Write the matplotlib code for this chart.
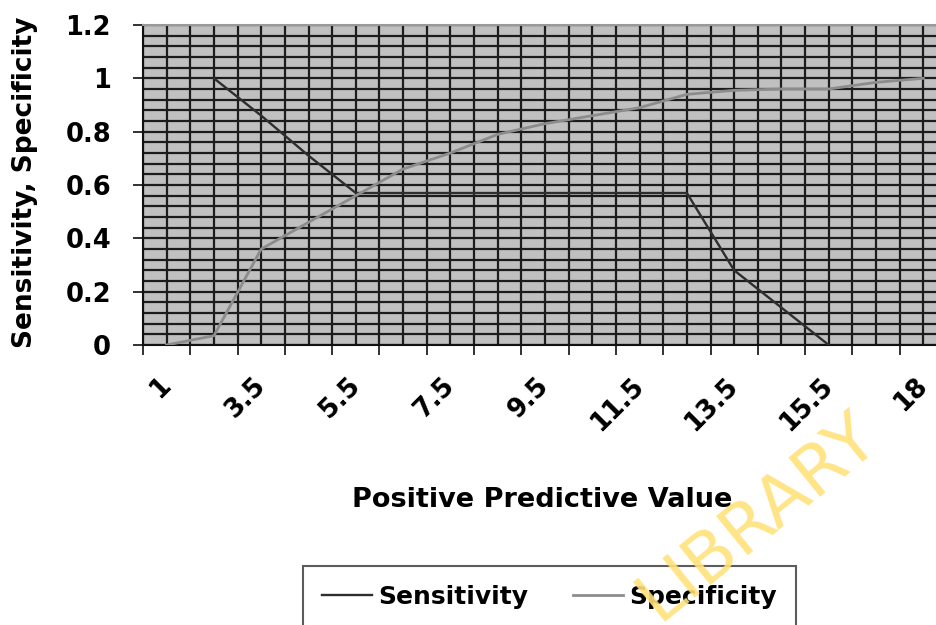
import numpy as np
import matplotlib.pyplot as plt

# category labels on the x axis (only every other one is printed)
categories = ['1', '2.5', '3.5', '4.5', '5.5', '6.5', '7.5', '8.5', '9.5',
              '10.5', '11.5', '12.5', '13.5', '14.5', '15.5', '16.5', '18']

sensitivity = [np.nan, 1.0, 0.86, 0.71, 0.57, 0.57, 0.57, 0.57, 0.57,
               0.57, 0.57, 0.57, 0.28, 0.14, 0.0, np.nan, np.nan]
specificity = [0.0, 0.035, 0.36, 0.46, 0.56, 0.66, 0.72, 0.79, 0.83,
               0.86, 0.89, 0.94, 0.955, 0.96, 0.96, 0.985, 1.0]

y_labels = ['0', '0.2', '0.4', '0.6', '0.8', '1', '1.2']

plt.rcParams['font.family'] = 'DejaVu Sans'
plt.rcParams['font.weight'] = 'bold'

fig = plt.figure(figsize=(9.37, 6.25), dpi=100)
ax = fig.add_axes([143 / 937, 1 - 345 / 625, 804 / 937, 320 / 625])
ax.set_facecolor('#c0c0c0')

n = len(categories)
x = np.arange(n)

l1, = ax.plot(x, sensitivity, color='#2e2e2e', lw=1.7, zorder=3, label='Sensitivity')
l2, = ax.plot(x, specificity, color='#8c8c8c', lw=2.0, zorder=3, label='Specificity')

ax.set_xlim(-0.5, n - 0.5)
ax.set_ylim(0, 1.2)

# ticks between categories, labels on every other category
ax.set_xticks(np.arange(n + 1) - 0.5)
ax.set_xticklabels([])
ax.set_xticks(x, [c if i % 2 == 0 else '' for i, c in enumerate(categories)], minor=True)
for lbl in ax.get_xticklabels(minor=True):
    lbl.set_rotation(45)
    lbl.set_ha('right')
    lbl.set_va('center')
    lbl.set_rotation_mode('anchor')

ax.set_yticks(np.arange(7) * 0.2, y_labels)
ax.set_yticks(np.arange(31) * 0.04, minor=True)

ax.tick_params(which='major', direction='out', length=7, width=1.3, color='#222222',
               labelsize=18.5, pad=16)
ax.tick_params(axis='x', which='minor', length=0, labelsize=18.5, pad=26.5)
ax.tick_params(axis='y', which='minor', length=0)

ax.grid(which='both', color='#1c1c1c', lw=1.6, zorder=1)
ax.set_axisbelow(True)

for side in ['left', 'bottom']:
    ax.spines[side].set_color('#111111')
    ax.spines[side].set_linewidth(1.5)
ax.spines['top'].set_color('#999999')
ax.spines['top'].set_linewidth(1.5)
ax.spines['right'].set_visible(False)

ax.set_ylabel('Sensitivity, Specificity', fontsize=19, fontweight='bold', va='center')
ax.yaxis.set_label_coords(-0.147, 0.51)
ax.set_xlabel('Positive Predictive Value', fontsize=19.5, fontweight='bold', va='center')
ax.xaxis.set_label_coords(0.496, -0.484)

leg = fig.legend(handles=[l1, l2], loc='upper left',
                 bbox_to_anchor=(303 / 937, 1 - 567 / 625, 493 / 937, 0.001),
                 mode='expand', borderaxespad=0,
                 ncol=2, fontsize=18, frameon=True, fancybox=False, edgecolor='#333333',
                 borderpad=0.75, handlelength=2.0, handletextpad=0.25, columnspacing=1.3)
leg.get_frame().set_linewidth(1.5)

# watermark
fig.text(757 / 937, 1 - 516 / 625, 'LIBRARY', color='#ffe27a', fontsize=50,
         fontweight='normal', rotation=39, ha='center', va='center', alpha=0.9, zorder=10)

fig.savefig('out.png', dpi=100)
